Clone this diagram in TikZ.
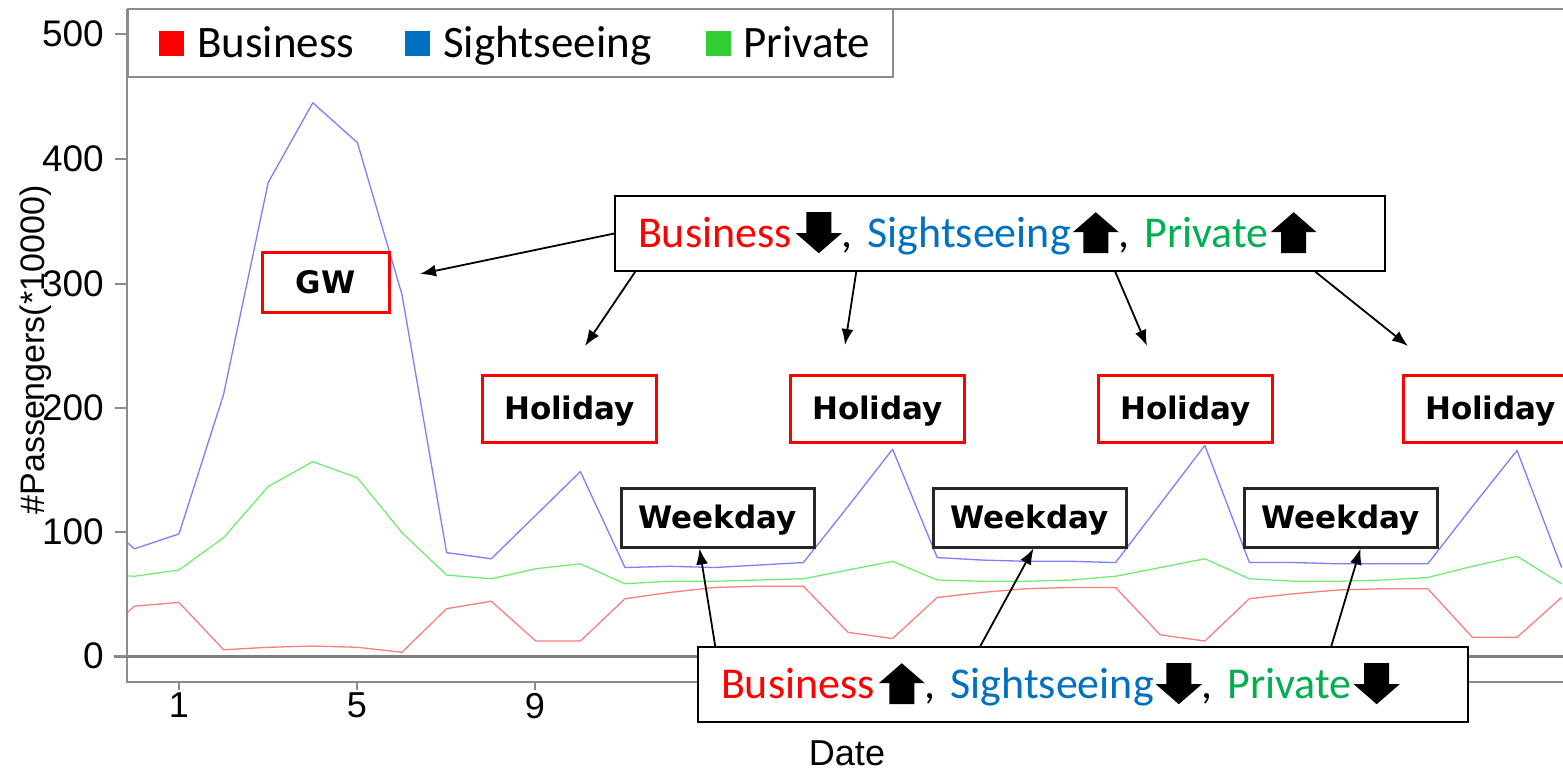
\documentclass[tikz,border=0pt]{standalone}
\usepackage{fontspec}
\usepackage{tikz}
\usetikzlibrary{arrows.meta,positioning}
\newfontfamily\calfont{Carlito}
\newfontfamily\arialfont{Liberation Sans}
\newfontfamily\boxfont{DejaVu Sans}
\definecolor{bizred}{RGB}{255,0,0}
\definecolor{sightblue}{RGB}{0,112,192}
\definecolor{privgreen}{RGB}{0,176,80}
\definecolor{leggreen}{RGB}{50,205,50}
\definecolor{lineblue}{RGB}{125,125,255}
\definecolor{linered}{RGB}{255,125,125}
\definecolor{linegreen}{RGB}{115,235,115}
\definecolor{axisgray}{RGB}{140,140,140}

\newcommand{\arrdown}{\tikz[baseline=0pt,x=1pt,y=1pt]\fill[black] (10.5,35) -- (35.5,35) -- (35.5,14) -- (46,14) -- (23,-6) -- (0,14) -- (10.5,14) -- cycle;}
\newcommand{\arrup}{\tikz[baseline=0pt,x=1pt,y=1pt]\fill[black] (23,35) -- (46,15) -- (35.5,15) -- (35.5,-6) -- (10.5,-6) -- (10.5,15) -- (0,15) -- cycle;}

\begin{document}
\begin{tikzpicture}[x=1pt, y=-1pt, node distance=308pt,
	holiday/.style={draw=red, line width=3pt, fill=white, minimum width=174pt, minimum height=67pt, text height=22pt, text depth=0pt, font=\boxfont\bfseries\fontsize{31}{36}\selectfont},
	weekday/.style={holiday, draw=black!85, minimum width=193pt, minimum height=59pt},
	notebox/.style={draw=black, line width=1.5pt, fill=white, text width=724pt, inner xsep=23pt, minimum height=75pt, align=left, font=\calfont\fontsize{44}{50}\selectfont},
	conn/.style={-{Latex[length=16pt,width=12pt]}, line width=1.8pt},
	axisline/.style={draw=axisgray, line width=2pt},
	chartline/.style={line width=1.3pt, line join=round},
	ylab/.style={anchor=east, inner sep=0pt, font=\arialfont\fontsize{37}{40}\selectfont},
	xlab/.style={anchor=north, inner sep=0pt, font=\arialfont\fontsize{36}{40}\selectfont},
	legsq/.style={minimum size=25pt, inner sep=0pt},
	legtext/.style={anchor=base west, inner sep=0pt, font=\calfont\fontsize{45}{50}\selectfont}]
	\useasboundingbox (0,0) rectangle (1563,770);
	
	% data
	\begin{scope}[shift={(134.4,656)}, x=44.6pt, y=1.246pt]
		\clip (-0.19,-20) rectangle (32.05,470);
		\draw[chartline, linered] plot coordinates {(-1,8) (0,40) (1,43) (2,5) (3,7) (4,8) (5,7) (6,3) (7,38) (8,44) (9,12) (10,12) (11,46) (12,51) (13,55) (14,56) (15,56) (16,19) (17,14) (18,47) (19,51) (20,54) (21,55) (22,55) (23,17) (24,12) (25,46) (26,50) (27,53) (28,54) (29,54) (30,15) (31,15) (32,47)};
		\draw[chartline, linegreen] plot coordinates {(-1,66) (0,64) (1,69) (2,95) (3,136) (4,156) (5,143) (6,99) (7,65) (8,62) (9,70) (10,74) (11,58) (12,60) (13,60) (14,61) (15,62) (16,69) (17,76) (18,61) (19,60) (20,60) (21,61) (22,64) (23,71) (24,78) (25,62) (26,60) (27,60) (28,61) (29,63) (30,72) (31,80) (32,58)};
		\draw[chartline, lineblue] plot coordinates {(-1,118) (0,86) (1,98) (2,210) (3,380) (4,444) (5,412) (6,290) (7,83) (8,78) (9,113) (10,148) (11,71) (12,72) (13,71) (14,73) (15,75) (16,120) (17,166) (18,79) (19,77) (20,76) (21,76) (22,75) (23,122) (24,169) (25,75) (26,75) (27,74) (28,74) (29,74) (30,120) (31,165) (32,71)};
	\end{scope}
	
	% axes
	\draw[axisline] (127,9) -- (1563,9);
	\draw[axisline] (127,9) -- (127,682) -- (1563,682);
	\draw[draw=axisgray!90!black, line width=3pt] (114,656) -- (1563,656);
	\foreach \v/\y in {500/34,400/159,300/284,200/408,100/532,0/656} {
		\draw[axisline] (115,\y) -- (127,\y);
		\node[ylab] (y\v) at (104,\y) {\v};
	}
	\foreach \d/\x in {1/179,5/357,9/535} {
		\draw[axisline] (\x,682) -- (\x,690);
		\node[xlab] (x\d) at (\x,693) {\d};
	}
	\node[xlab, anchor=base] (dateTitle) at (847,765) {Date};
	\node[inner sep=0pt, rotate=90, font=\arialfont\fontsize{34}{40}\selectfont] (yTitle) at (36,350) {\#Passengers(*10000)};
	
	% legend
	\draw[axisline, fill=white] (128,9) rectangle (893,77);
	\node[legsq, fill=bizred] (sqBiz) at (171.5,43.5) {};
	\node[legtext] (legBiz) at (197,58) {Business};
	\node[legsq, fill=sightblue] (sqSight) at (417.5,43.5) {};
	\node[legtext] (legSight) at (443,58) {Sightseeing};
	\node[legsq, fill=leggreen] (sqPriv) at (718.5,43.5) {};
	\node[legtext] (legPriv) at (743,58) {Private};
	
	% labels
	\node[holiday, minimum width=127pt, minimum height=60pt] (gwBox) at (325.5,282) {GW};
	\node[holiday] (holidayA) at (569.5,408.5) {Holiday};
	\node[holiday] (holidayB) [right of=holidayA] {Holiday};
	\node[holiday] (holidayC) [right of=holidayB] {Holiday};
	\node[holiday] (holidayD) [right of=holidayC, xshift=-3pt] {Holiday};
	\node[weekday] (weekdayA) at (717.5,517.5) {Weekday};
	\node[weekday] (weekdayB) [right of=weekdayA, node distance=312pt] {Weekday};
	\node[weekday] (weekdayC) [right of=weekdayB, node distance=311pt] {Weekday};
	
	\node[notebox] (topNote) at (1000,233.5) {{\color{bizred}Business}\hspace{4pt}\arrdown,\ {\color{sightblue}Sightseeing}\hspace{2pt}\arrup,\ {\color{privgreen}Private}\hspace{2pt}\arrup};
	\node[notebox] (bottomNote) at (1083,684.5) {{\color{bizred}Business}\hspace{4pt}\arrup,\ {\color{sightblue}Sightseeing}\hspace{2pt}\arrdown,\ {\color{privgreen}Private}\hspace{2pt}\arrdown};
	
	\coordinate (gwTip) at (420,274);
	\coordinate (holTipA) at (585,346);
	\coordinate (holTipB) at (845,345);
	\coordinate (holTipC) at (1147,346);
	\coordinate (holTipD) at (1408,346);
	
	% Arrows
	\draw[conn] (topNote.west) -- (gwTip);
	\draw[conn] ([xshift=21pt]topNote.south west) -- (holTipA);
	\draw[conn] ([xshift=242pt]topNote.south west) -- (holTipB);
	\draw[conn] ([xshift=501pt]topNote.south west) -- (holTipC);
	\draw[conn] ([xshift=701pt]topNote.south west) -- (holTipD);
	\draw[conn] ([xshift=18pt]bottomNote.north west) -- ([xshift=-18pt]weekdayA.south);
	\draw[conn] ([xshift=283pt]bottomNote.north west) -- ([xshift=4pt]weekdayB.south);
	\draw[conn] ([xshift=634pt]bottomNote.north west) -- ([xshift=20pt]weekdayC.south);
\end{tikzpicture}
\end{document}
